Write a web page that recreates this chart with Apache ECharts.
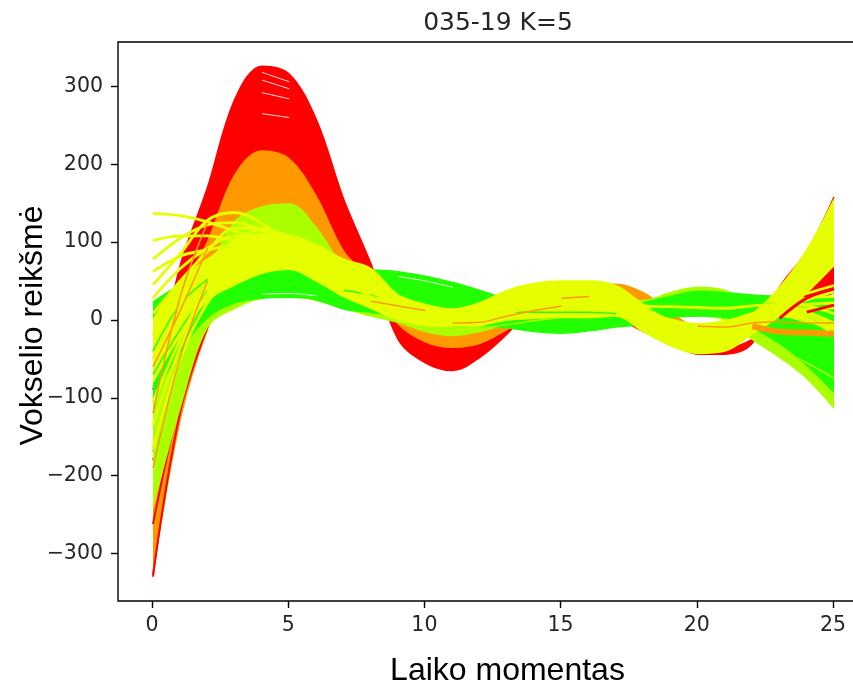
<!DOCTYPE html>
<html><head><meta charset="utf-8">
<style>html,body{margin:0;padding:0;background:#fff;overflow:hidden}#c{width:853px;height:684px}</style>
<script src="https://cdn.jsdelivr.net/npm/echarts@6/dist/echarts.min.js"></script>
</head><body><div id="c"></div>
<script>
const moments=['0','1','2','3','4','5','6','7','8','9','10','11','12','13','14','15','16','17','18','19','20','21','22','23','24','25'];
const xTicks=[0,5,10,15,20,25];
const yTicks=[-300,-200,-100,0,100,200,300];
const RED='#ff0000',ORANGE='#ff9900',LIME='#aaff00',GREEN='#22ff00',YELLOW='#e6ff00',WHITE='#ffffff';

const redHi=[-90,70,170,283,326,316,257,155,72,-25,-55,-65,-48,-18,20,40,35,18,-8,-28,-44,-44,-30,42,88,158];
const redLo=[-330,-100,40,130,170,165,130,70,30,5,-25,-35,-25,-5,15,25,22,5,-15,-30,-40,-38,-25,0,20,35];
const orangeHi=[-170,30,100,186,217,207,158,88,50,-5,-28,-35,-30,-12,10,30,44,46,35,10,-10,-12,-5,-4,-2,-4];
const orangeLo=[-325,-128,-12,60,90,85,70,50,30,15,5,0,-2,5,15,20,18,10,5,-10,-20,-20,-15,-12,-17,-22];
const limeHi=[-60,10,62,126,145,149,118,66,35,15,5,-3,-3,2,15,25,30,25,25,35,42,38,22,8,4,10];
const limeLo=[-240,-112,-9,15,28,30,25,15,5,-3,-15,-20,-15,-5,5,8,8,5,5,5,5,0,-25,-48,-75,-113];
const greenHi=[23,45,60,67,70,70,67,65,64,62,56,48,38,27,20,15,12,12,22,30,37,35,32,30,26,30];
const greenLo=[-100,-40,3,22,28,29,26,14,10,5,0,-3,-7,-10,-15,-17,-14,-9,-6,3,5,3,-10,-30,-58,-93];
const yellowHi=[0,50,78,95,108,108,96,78,66,32,20,14,22,38,47,50,50,44,20,-2,-14,-10,8,42,90,155];
const yellowLo=[-80,-20,25,45,60,65,50,30,15,0,-7,-8,-7,0,2,3,3,5,-15,-33,-43,-40,-18,5,35,70];

const redStreaks=[
 [-328,-118,-9],
 [-262,-105,-3],
 [-180,-75,20]
];
const yellowLines=[
 [137,134,126,114,102,88,70,52,36,22,10,4,6,14,26,36,34,24,18,17,16,15,18,20,18,8],
 [102,108,108,102,96,84,66,50,36,24,14,8,10,20,32,38,36,28,14,0,-6,-2,8,16,10,-4],
 [78,105,122,125,115,98,80,60,42,28,16,10,12,22,34,40,38,30,12,-4,-10,-6,4,22,28,30],
 [62,82,90,96,100,92,76,58,40,26,14,6,8,18,30,36,32,24,12,0,-6,-2,6,18,14,16],
 [45,85,128,138,124,100,82,62,44,30,18,10,12,24,36,42,40,30,14,-6,-12,-8,4,24,34,44],
 [28,66,92,108,108,100,84,64,46,30,16,8,8,18,28,34,32,24,12,-2,-8,-6,4,14,10,-8],
 [8,50,88,118,118,100,80,60,42,26,14,6,6,16,28,36,34,26,12,-4,-10,-6,4,12,6,-12],
 [-20,40,76,100,110,104,88,66,46,28,14,6,6,18,30,38,36,26,12,-2,-8,-4,6,18,20,22],
 [-50,18,70,102,116,108,90,68,48,30,16,6,4,14,26,34,32,24,10,-6,-12,-8,2,10,2,-18],
 [-105,-25,45,85,100,98,84,62,40,24,10,2,2,12,24,32,30,22,8,-8,-14,-10,0,8,0,-12],
 [-135,-35,35,72,92,92,78,56,36,20,6,-2,0,10,20,28,26,18,6,-10,-16,-12,-2,14,26,36],
 [-165,-50,22,60,80,84,70,50,30,14,2,-4,-2,8,18,24,22,16,2,-12,-18,-14,-4,6,-2,-10]
];
const greenStreaks=[
 [null,null,null,null,null,null,null,38,32,24,14,null,6,10,10,10,10,8],
 [null,null,null,null,null,null,null,null,null,null,null,null,null,null,null,null,null,null,8,20,24,22,20,22],
 [null,null,null,null,null,null,null,null,null,null,null,null,null,null,null,null,null,null,null,null,null,null,null,0,12,22],
 [-40,20,52],
 [-70,-12,38]
];
const limeStreaks=[
 [null,null,null,null,null,null,null,null,null,null,null,-8,-10,-6,-1,3],
 [null,null,null,null,null,null,null,null,null,null,null,null,null,null,null,null,null,null,null,null,null,null,-20,-38,-55,-75]
];
const orangeStreaks=[
 [-120,30,125],
 [-60,12,92],
 [-190,-48,50],
 [null,null,null,null,null,null,null,null,24,18,12],
 [null,null,null,null,null,null,null,null,null,null,null,-4,-3,5,12,18],
 [null,null,null,null,null,null,null,null,null,null,null,null,null,null,null,28,30],
 [null,null,null,null,null,null,null,null,null,null,null,null,null,null,null,null,null,null,null,null,-8,-9,-4,-2],
 [null,null,null,null,null,null,null,null,null,null,null,null,null,null,null,null,null,null,null,null,null,null,null,-3,-4,-4]
];
const orangeEndBand=[
 [null,null,null,null,null,null,null,null,null,null,null,null,null,null,null,null,null,null,null,null,null,null,-8,-15,-16,-18]
];
const redEndStreaks=[
 [null,null,null,null,null,null,null,null,null,null,null,null,null,null,null,null,null,null,null,null,null,null,null,2,28,40],
 [null,null,null,null,null,null,null,null,null,null,null,null,null,null,null,null,null,null,null,null,null,null,null,null,10,19]
];
const whiteSlivers=[
 [null,null,null,null,318,306],
 [null,null,null,null,308,297],
 [null,null,null,null,292,284],
 [null,null,null,null,265,260],
 [null,null,null,null,null,null,null,null,null,56,50,42],
 [null,null,null,null,33,34,31]
];

const seriesList=[];
const base={type:'line',smooth:0.35,symbol:'none',silent:true,clip:false,xAxisIndex:1,yAxisIndex:1};
function push(o){ seriesList.push(Object.assign({},base,o,{z:2+seriesList.length})); }
function band(name,color,hi,lo){
  push({name:name,stack:name,stackStrategy:'all',lineStyle:{color:color,width:1.5},data:lo});
  push({name:name,stack:name,stackStrategy:'all',lineStyle:{color:color,width:1.5},areaStyle:{color:color,opacity:1},data:hi.map((v,i)=>v-lo[i])});
}
function lines(name,color,list,w){
  list.forEach(a=>push({name:name,lineStyle:{color:color,width:w},data:a}));
}
band('k1',RED,redHi,redLo);
band('k2',ORANGE,orangeHi,orangeLo);
lines('k1',RED,redStreaks,2);
band('k3',LIME,limeHi,limeLo);
band('k4',GREEN,greenHi,greenLo);
lines('gaps',WHITE,whiteSlivers,0.9);
band('k5',YELLOW,yellowHi,yellowLo);
lines('k4',GREEN,greenStreaks,1.5);
lines('k5',YELLOW,yellowLines,2.8);
lines('k3',LIME,limeStreaks,1.5);
lines('k2',ORANGE,orangeStreaks,1.5);
lines('k2',ORANGE,orangeEndBand,6);
lines('k1',RED,redEndStreaks,3);

const tickFont={fontFamily:'DejaVu Sans',fontSize:20.5,color:'#262626'};
const labelFont='Liberation Sans';
const chart=echarts.init(document.getElementById('c'),null,{renderer:'canvas'});
const Y={min:-361,max:357};
chart.setOption({
  animation:false,backgroundColor:'#fff',
  title:{text:'035-19 K=5',left:493,top:6,textAlign:'center',textStyle:{fontFamily:'DejaVu Sans',fontSize:25,fontWeight:'normal',color:'#262626'}},
  grid:[
    {left:118,top:42,width:749,height:559,show:true,borderColor:'#000',borderWidth:1.4,backgroundColor:'#fff',outerBoundsMode:'none'},
    {left:153,top:42,width:681,height:559,outerBoundsMode:'none'}
  ],
  xAxis:[
   {type:'value',gridIndex:0,min:-1.25,max:26.25,splitLine:{show:false},axisLine:{show:false,onZero:false},
    axisTick:{show:true,length:7,customValues:xTicks,lineStyle:{color:'#000',width:1.4}},
    axisLabel:Object.assign({customValues:xTicks,margin:14},tickFont),
    name:'Laiko momentas',nameLocation:'middle',nameGap:54,
    nameTextStyle:{fontFamily:labelFont,fontSize:32,color:'#000',padding:[0,0,0,30]}},
   {type:'category',gridIndex:1,data:moments,boundaryGap:false,show:false}
  ],
  yAxis:[
   {type:'value',gridIndex:0,min:Y.min,max:Y.max,splitLine:{show:false},axisLine:{show:false,onZero:false},
    axisTick:{show:true,length:7,customValues:yTicks,lineStyle:{color:'#000',width:1.4}},
    axisLabel:Object.assign({customValues:yTicks,margin:15},tickFont,{formatter:v=>String(v).replace('-','\u2212')}),
    name:'Vokselio reikšmė',nameLocation:'middle',nameGap:69,nameMoveOverlap:false,
    nameTextStyle:{fontFamily:labelFont,fontSize:32,color:'#000',padding:[0,8,0,0]}},
   {type:'value',gridIndex:1,min:Y.min,max:Y.max,show:false}
  ],
  series:seriesList
});
</script></body></html>
